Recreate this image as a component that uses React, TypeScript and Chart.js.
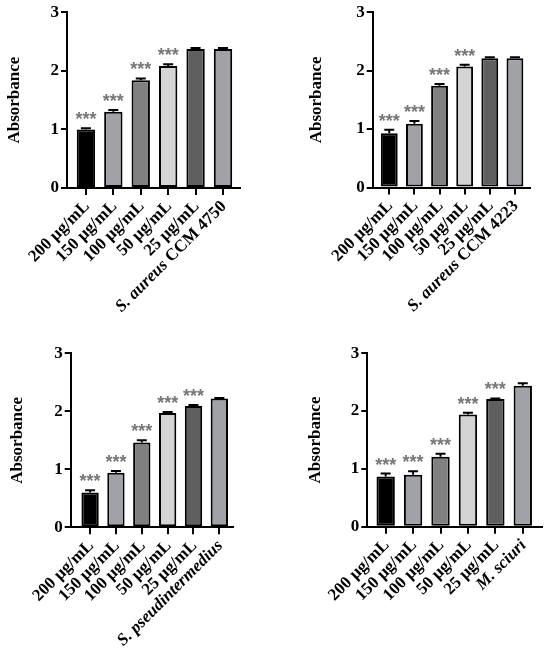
import React, { useEffect, useRef } from 'react';
import { Chart, registerables } from 'chart.js';

Chart.register(...registerables);

const doses = ['200 µg/mL', '150 µg/mL', '100 µg/mL', '50 µg/mL', '25 µg/mL'];
const strainItalic = ['S. aureus', 'S. aureus', 'S. pseudintermedius', 'M. sciuri'];
const strainRest = [' CCM 4750', ' CCM 4223', '', ''];

const absA = [1.0, 1.3, 1.84, 2.08, 2.37, 2.37];
const errA = [0.02, 0.03, 0.03, 0.03, 0.02, 0.02];
const sigA = ['***', '***', '***', '***', '', ''];

const absB = [0.93, 1.09, 1.74, 2.07, 2.21, 2.21];
const errB = [0.06, 0.05, 0.03, 0.03, 0.02, 0.02];
const sigB = ['***', '***', '***', '***', '', ''];

const absC = [0.6, 0.94, 1.46, 1.97, 2.09, 2.22];
const errC = [0.04, 0.03, 0.04, 0.02, 0.02, 0.01];
const sigC = ['***', '***', '***', '***', '***', ''];

const absD = [0.87, 0.9, 1.21, 1.94, 2.21, 2.44];
const errD = [0.05, 0.06, 0.05, 0.03, 0.01, 0.04];
const sigD = ['***', '***', '***', '***', '***', ''];

const yTicks = [0, 1, 2, 3];

const barColors = ['#000000', '#a1a1a8', '#808080', '#d4d4d4', '#5f5f5f', '#a1a1a8'];

const SERIF = '"Liberation Serif", "Times New Roman", serif';

type Seg = { text: string; italic: boolean };

// error bars, significance stars and the rotated category labels
const decorations = {
  id: 'decorations',
  afterDatasetsDraw(chart: any, _args: any, opts: any) {
    const { ctx, scales } = chart;
    const x = scales.x;
    const y = scales.y;
    const values: number[] = opts.values;
    const errors: number[] = opts.errors;
    const stars: string[] = opts.stars;
    const labels: Seg[][] = opts.labels;

    ctx.save();
    ctx.strokeStyle = '#000';
    ctx.lineWidth = 2;
    values.forEach((v, i) => {
      const px = x.getPixelForValue(i);
      const base = y.getPixelForValue(v);
      const top = y.getPixelForValue(v + errors[i]);
      ctx.beginPath();
      ctx.moveTo(px, base);
      ctx.lineTo(px, top);
      ctx.moveTo(px - 5, top);
      ctx.lineTo(px + 5, top);
      ctx.stroke();

      if (stars[i]) {
        ctx.font = 'bold 18px "Liberation Sans", Arial, sans-serif';
        ctx.fillStyle = '#777777';
        ctx.textAlign = 'center';
        ctx.textBaseline = 'alphabetic';
        ctx.fillText(stars[i], px, top - 3);
      }
    });

    const axisY = y.getPixelForValue(0);
    labels.forEach((segs, i) => {
      const px = x.getPixelForValue(i);
      ctx.save();
      ctx.translate(px + 1, axisY + 16);
      ctx.rotate(-Math.PI / 4);
      ctx.fillStyle = '#000';
      ctx.textBaseline = 'middle';
      ctx.textAlign = 'left';
      const fonts = segs.map((s) => (s.italic ? 'italic bold 17px ' : 'bold 17px ') + SERIF);
      const widths = segs.map((s, k) => {
        ctx.font = fonts[k];
        return ctx.measureText(s.text).width;
      });
      let cx = -widths.reduce((a, b) => a + b, 0);
      segs.forEach((s, k) => {
        ctx.font = fonts[k];
        ctx.fillText(s.text, cx, 0);
        cx += widths[k];
      });
      ctx.restore();
    });
    ctx.restore();
  },
};

type PanelProps = {
  left: number;
  top: number;
  plot: { l: number; r: number; t: number; b: number };
  xMin: number;
  xMax: number;
  titlePad: number;
  values: number[];
  errors: number[];
  stars: string[];
  strain: number;
};

const W = 275;
const H = 329;

const Panel: React.FC<PanelProps> = ({ left, top, plot, xMin, xMax, titlePad, values, errors, stars, strain }) => {
  const canvasRef = useRef<HTMLCanvasElement>(null);

  useEffect(() => {
    if (!canvasRef.current) return;
    const labels: Seg[][] = [
      ...doses.map((d) => [{ text: d, italic: false }]),
      [
        { text: strainItalic[strain], italic: true },
        { text: strainRest[strain], italic: false },
      ].filter((s) => s.text),
    ];

    const chart = new Chart(canvasRef.current, {
      type: 'bar',
      data: {
        datasets: [
          {
            data: values.map((v, i) => ({ x: i, y: v })),
            backgroundColor: barColors,
            borderColor: '#000',
            borderWidth: 2,
            borderSkipped: false,
            barPercentage: 0.67,
            categoryPercentage: 1,
          },
        ],
      },
      options: {
        responsive: false,
        animation: false,
        layout: { padding: { top: plot.t, right: W - plot.r, left: 0, bottom: 0 } },
        plugins: {
          legend: { display: false },
          tooltip: { enabled: false },
          // @ts-ignore
          decorations: { values, errors, stars, labels },
        },
        scales: {
          x: {
            type: 'linear',
            min: xMin,
            max: xMax,
            offset: false,
            afterBuildTicks: (s: any) => {
              s.ticks = values.map((_, i) => ({ value: i }));
            },
            afterFit: (s: any) => {
              s.height = H - plot.b;
            },
            ticks: { display: false },
            grid: {
              offset: false,
              drawOnChartArea: false,
              drawTicks: true,
              tickLength: 7,
              color: '#000',
              lineWidth: 2,
            },
            border: { display: true, color: '#000', width: 2 },
          },
          y: {
            min: 0,
            max: 3,
            afterBuildTicks: (s: any) => {
              s.ticks = yTicks.map((v) => ({ value: v }));
            },
            afterFit: (s: any) => {
              s.width = plot.l;
            },
            ticks: {
              color: '#000',
              padding: 2,
              font: { family: SERIF, size: 17, weight: 'bold' },
            },
            grid: {
              drawOnChartArea: false,
              drawTicks: true,
              tickLength: 6,
              color: '#000',
              lineWidth: 2,
            },
            border: { display: true, color: '#000', width: 2 },
            title: {
              display: true,
              text: 'Absorbance',
              color: '#000',
              padding: { top: titlePad, bottom: 0 },
              font: { family: SERIF, size: 17, weight: 'bold' },
            },
          },
        },
      },
      plugins: [decorations],
    } as any);

    return () => {
      chart.destroy();
    };
  }, [values, errors, stars, strain]);

  return (
    <canvas
      ref={canvasRef}
      width={W}
      height={H}
      style={{ position: 'absolute', left, top, width: W, height: H }}
    />
  );
};

const App: React.FC = () => {
  return (
    <div style={{ position: 'absolute', left: 0, top: 0, width: 550, height: 658, background: '#fff' }}>
      <Panel left={0} top={0} plot={{ l: 67, r: 240, t: 12, b: 188 }} xMin={-0.69} xMax={5.62} titlePad={4}
        values={absA} errors={errA} stars={sigA} strain={0} />
      <Panel left={275} top={0} plot={{ l: 97.7, r: 255, t: 12, b: 187.5 }} xMin={-0.66} xMax={5.6} titlePad={31.5}
        values={absB} errors={errB} stars={sigB} strain={1} />
      <Panel left={0} top={329} plot={{ l: 70.7, r: 233.3, t: 24.3, b: 198.3 }} xMin={-0.75} xMax={5.54} titlePad={7.3}
        values={absC} errors={errC} stars={sigC} strain={2} />
      <Panel left={275} top={329} plot={{ l: 92.3, r: 266.7, t: 24.3, b: 197.7 }} xMin={-0.67} xMax={5.69} titlePad={30.6}
        values={absD} errors={errD} stars={sigD} strain={3} />
    </div>
  );
};

export default App;
